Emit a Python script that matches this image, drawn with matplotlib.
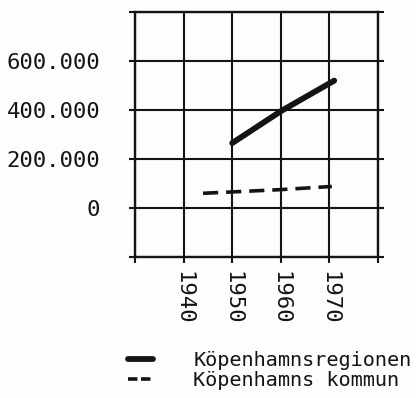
import matplotlib
matplotlib.use("Agg")
import matplotlib.pyplot as plt
from matplotlib.lines import Line2D

# Population series (inhabitants)
region_years = [1950, 1960, 1971]
region_pop = [265000, 395000, 520000]
kommun_years = [1944, 1960, 1970.5]
kommun_pop = [60000, 75000, 88000]

x_grid = [1930, 1940, 1950, 1960, 1970, 1980]
x_labels = ["", "1940", "1950", "1960", "1970", ""]
y_grid = [-200000, 0, 200000, 400000, 600000, 800000]
y_labels = ["", "0", "200.000", "400.000", "600.000", ""]
series_names = ["Köpenhamnsregionen", "Köpenhamns kommun"]

ink = "#141414"
font = "DejaVu Sans Mono"

fig = plt.figure(figsize=(4.16, 3.98), dpi=100)
fig.patch.set_facecolor("#fdfdfd")
ax = fig.add_axes([135 / 416, 1 - 257 / 398, 243 / 416, 245 / 398])
ax.set_facecolor("#fdfdfd")

ax.set_xlim(x_grid[0], x_grid[-1])
ax.set_ylim(y_grid[0], y_grid[-1])
ax.set_xticks(x_grid)
ax.set_xticklabels(x_labels, rotation=270, family=font, fontsize=16, color=ink)
ax.set_yticks(y_grid)
ax.set_yticklabels(y_labels, family=font, fontsize=16, color=ink)
ax.grid(True, color=ink, linewidth=1.5)
ax.set_axisbelow(True)
for s in ax.spines.values():
    s.set_color(ink)
    s.set_linewidth(1.7)
ax.tick_params(axis="y", which="both", direction="out", length=4, width=1.5,
               color=ink, pad=21, left=True, right=True)
ax.tick_params(axis="x", which="both", direction="out", length=4, width=1.5,
               color=ink, pad=6)

ax.plot(region_years, region_pop, color=ink, linewidth=4.2,
        solid_capstyle="round")
ax.plot(kommun_years, kommun_pop, color=ink, linewidth=2.6,
        dashes=(4.2, 2.2))

# Legend keys: short thick stroke and a pair of short dashes
keys = [Line2D([], [], color=ink, linewidth=4.2, solid_capstyle="round"),
        Line2D([], [], color=ink, linewidth=2.6, dashes=(2.6, 1.0))]
leg = fig.legend(handles=keys, labels=series_names, loc="upper left",
                 bbox_to_anchor=(128 / 416, 1 - 351 / 398),
                 frameon=False, prop={"family": font, "size": 14.5},
                 handlelength=1.25, handletextpad=2.0, labelspacing=0.05,
                 borderpad=0, borderaxespad=0)
for t in leg.get_texts():
    t.set_color(ink)

fig.savefig("out.png", dpi=100, facecolor=fig.get_facecolor())
